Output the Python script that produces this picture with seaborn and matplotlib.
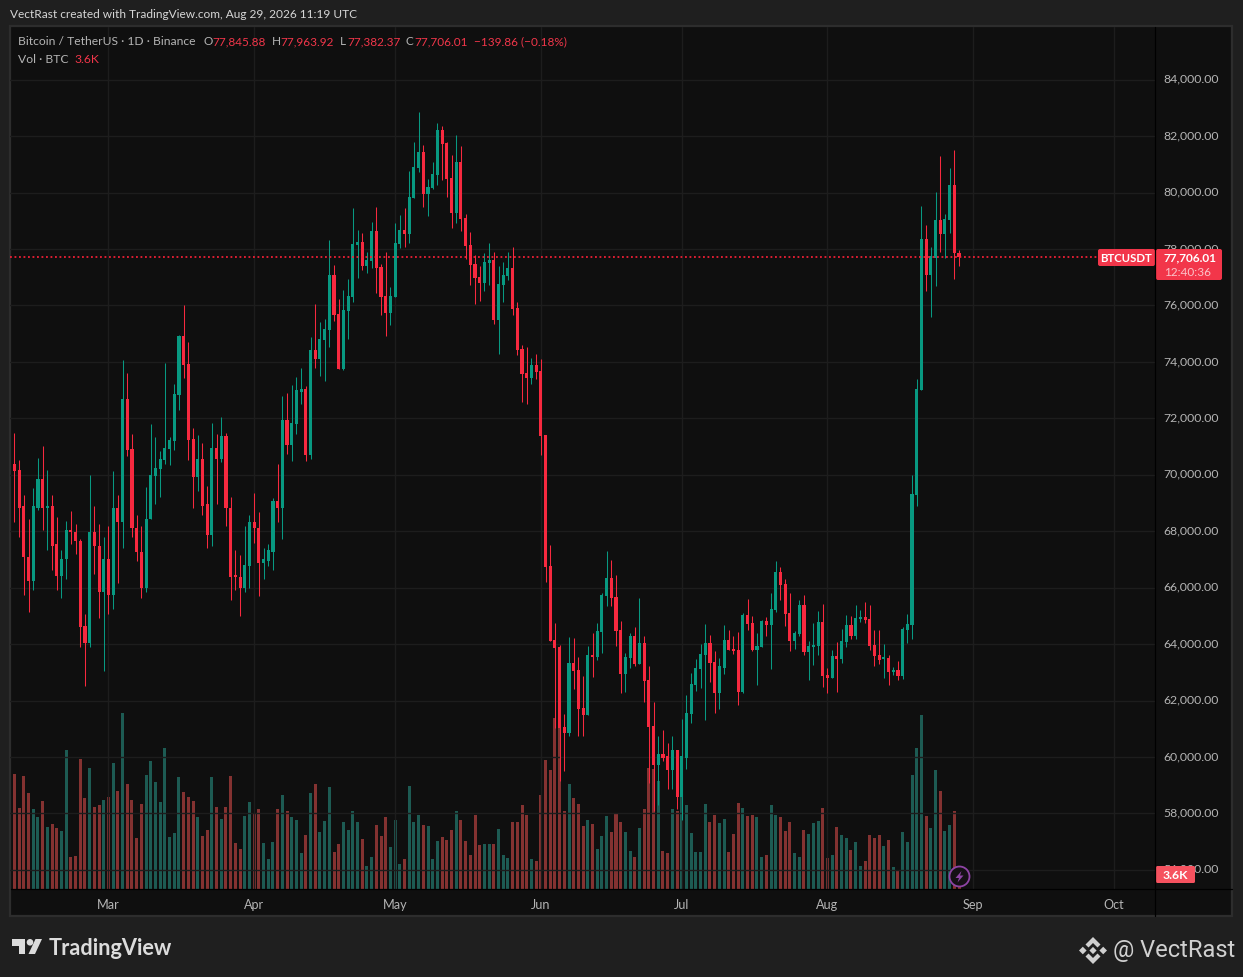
import numpy as np
import pandas as pd
import matplotlib
matplotlib.use("Agg")
import matplotlib.pyplot as plt
import matplotlib.dates as mdates
from matplotlib.patches import Rectangle, FancyBboxPatch, Polygon, Circle
from matplotlib.ticker import FuncFormatter
from matplotlib.transforms import ScaledTranslation
import seaborn as sns

# ---------- data (thousand USDT, thousand BTC) ----------
first_day = "2026-02-09"
open_k = [
70.37,70.16,68.88,67.10,66.25,68.84,69.84,68.81,68.91,67.53,
66.43,67.00,68.03,67.99,67.67,64.65,64.05,67.99,67.49,65.86,
67.00,65.75,68.84,68.31,72.68,70.90,68.13,67.28,65.97,68.42,
69.94,70.19,70.51,70.90,71.18,72.82,74.91,73.92,71.26,69.91,
70.55,68.95,67.85,70.94,70.55,71.36,68.84,66.43,66.39,66.00,
66.78,68.31,68.13,66.89,66.96,67.28,69.06,68.84,71.93,71.04,
71.79,72.93,73.04,70.70,74.42,74.10,74.77,75.13,77.08,75.70,
73.74,75.80,76.30,78.14,78.25,77.40,77.58,78.64,77.36,76.34,
75.73,76.30,78.18,78.68,78.53,79.81,80.88,81.44,79.95,80.17,
80.63,82.23,81.76,80.52,79.28,81.09,79.10,78.14,77.47,77.01,
76.80,77.50,77.61,75.48,76.73,77.04,77.33,75.91,74.45,73.60,
73.42,73.88,73.67,71.41,66.76,64.13,63.89,61.05,60.84,63.32,
63.07,61.72,61.47,63.60,63.53,64.42,65.69,66.33,65.66,64.49,
62.93,63.49,64.27,63.28,64.03,62.71,61.08,59.73,60.09,60.02,
59.52,60.23,58.57,59.98,61.51,62.54,63.11,63.60,64.03,63.35,
62.25,63.17,64.13,63.81,63.78,62.29,65.02,64.76,63.80,63.90,
64.82,64.68,65.22,66.55,66.13,65.11,64.11,64.36,65.39,63.72,
63.90,63.93,64.78,62.90,62.80,63.57,63.47,64.07,64.68,64.28,
64.89,64.97,64.89,63.97,63.61,63.47,63.51,63.01,63.08,62.87,
64.51,64.68,69.30,73.01,78.35,77.07,77.70,79.02,78.52,79.02,
80.26,77.846]
close_k = [
70.12,68.84,67.07,66.25,68.88,69.84,68.81,68.91,67.49,66.43,
67.03,68.03,67.96,67.64,64.62,64.05,67.99,67.46,65.86,67.00,
65.75,68.84,68.31,72.68,70.87,68.10,67.25,65.97,68.45,69.98,
70.23,70.55,70.94,71.22,72.85,74.91,73.88,71.22,69.91,70.55,
68.91,67.85,70.94,70.55,71.36,68.81,66.39,66.39,66.00,66.82,
68.31,68.10,66.89,67.00,67.32,69.06,68.84,71.93,71.04,71.82,
72.99,73.03,70.70,74.42,74.10,74.81,75.16,77.08,75.66,73.74,
75.84,76.34,78.18,78.25,77.40,77.61,78.64,77.33,76.30,75.73,
76.34,78.21,78.68,78.53,79.85,80.91,81.44,79.95,80.20,80.66,
82.23,81.73,80.49,79.28,81.09,79.07,78.11,77.44,76.97,76.80,
77.54,77.61,75.48,76.76,77.08,77.33,75.87,74.42,73.57,73.42,
73.88,73.64,71.37,66.72,64.10,63.85,61.01,60.84,63.32,63.03,
61.69,61.47,63.60,63.53,64.45,65.73,66.33,65.62,64.45,62.93,
63.53,64.27,63.28,64.03,62.68,61.05,59.73,60.09,59.98,59.52,
60.23,58.57,60.02,61.55,62.57,63.14,63.64,64.03,63.32,62.25,
63.21,64.13,63.78,63.74,62.29,65.02,64.72,63.80,63.93,64.82,
64.68,65.24,66.55,66.10,65.07,64.11,64.39,65.39,63.72,63.93,
63.97,64.78,62.87,62.80,63.57,63.47,64.11,64.68,64.28,64.93,
64.97,64.86,63.93,63.57,63.43,63.51,63.01,63.08,62.87,64.53,
64.72,69.33,73.05,78.35,77.07,77.74,79.02,78.52,79.05,80.26,
77.85,77.706]
high_k = [
71.47,70.53,69.30,68.42,69.52,70.58,71.01,70.16,69.27,68.49,
67.35,68.35,68.70,68.27,67.71,65.05,70.01,68.88,68.24,67.78,
68.20,70.12,69.27,74.06,73.60,71.43,68.56,68.20,69.55,71.79,
71.33,70.83,73.95,71.33,73.21,74.95,76.01,74.70,71.65,71.40,
71.11,69.62,71.82,71.43,72.04,71.47,69.20,67.32,67.14,68.20,
68.59,69.34,68.67,67.39,67.56,69.16,70.37,72.78,72.89,73.17,
73.46,73.78,73.15,74.88,76.05,75.41,75.52,78.32,77.44,76.23,
76.55,76.94,79.46,78.68,78.57,77.90,78.96,79.49,77.47,77.90,
76.65,78.92,79.21,79.46,80.77,81.80,82.86,81.69,80.49,81.09,
82.47,82.37,81.80,81.34,82.05,81.66,79.24,78.60,77.79,77.40,
77.86,78.21,77.90,77.40,77.54,77.90,78.07,76.12,74.60,74.52,
74.13,74.28,74.10,71.41,67.50,64.74,63.96,61.51,64.24,64.20,
63.53,62.86,63.92,64.38,64.74,65.80,67.29,66.97,66.44,64.81,
63.67,64.38,64.59,65.62,64.27,63.21,61.93,60.76,60.94,60.51,
60.76,60.26,61.33,62.18,62.96,63.46,63.99,64.70,64.31,63.74,
63.49,64.66,64.49,64.27,64.42,65.09,65.59,64.99,64.39,64.86,
64.97,65.81,66.95,66.74,66.31,65.81,64.47,65.57,65.74,64.11,
64.76,65.18,65.43,63.15,63.80,64.07,64.53,65.03,64.99,65.39,
65.22,65.49,65.39,64.51,64.51,64.01,63.61,63.19,63.40,64.61,
65.07,70.01,73.41,79.51,78.84,78.06,80.01,81.29,79.26,80.87,
81.51,77.964]
low_k = [
68.31,67.81,65.75,65.12,65.90,68.74,68.03,67.32,66.64,65.90,
65.65,66.29,67.56,67.21,63.91,62.53,63.91,66.50,64.94,63.06,
65.08,65.26,66.18,67.42,70.65,67.78,66.93,65.65,65.83,68.42,
68.98,69.23,70.40,70.33,70.87,72.29,73.42,70.51,68.81,69.41,
68.59,67.39,67.46,68.95,70.44,68.17,65.58,65.93,65.01,65.83,
66.00,67.60,65.72,66.29,66.78,66.64,68.31,67.74,70.72,70.48,
71.43,72.50,70.49,70.56,73.78,73.49,73.32,74.52,75.44,73.74,
73.71,74.81,76.12,76.97,77.26,77.15,77.33,76.44,75.66,74.91,
75.30,76.30,78.04,78.07,78.21,79.81,80.73,79.49,79.17,80.13,
80.27,80.45,79.85,78.75,78.92,78.64,77.65,76.73,76.05,76.16,
76.51,76.73,75.34,74.28,76.12,76.90,75.66,74.24,72.57,72.50,
73.21,73.39,70.70,66.19,64.10,61.03,59.13,59.49,60.73,62.40,
60.76,60.73,61.47,62.82,63.42,63.67,65.34,65.34,63.92,62.25,
62.29,63.17,63.24,63.28,61.93,59.09,58.10,58.31,59.84,58.88,
58.88,58.17,57.78,59.56,61.22,62.33,62.43,61.30,62.65,61.55,
61.69,62.93,63.78,63.64,61.83,62.25,64.49,63.76,62.55,63.90,
64.28,63.11,65.14,65.57,64.64,63.76,63.82,64.28,63.61,62.72,
63.26,63.61,62.48,62.26,62.80,62.30,63.32,63.90,64.18,64.18,
64.78,64.76,63.80,63.22,63.30,62.80,62.55,62.90,62.72,62.76,
64.03,64.18,68.91,73.01,76.53,75.58,76.68,77.89,77.68,78.56,
76.93,77.382]
volume_k = [
27.6,19.4,27.1,23.0,19.2,17.3,21.1,14.9,15.6,14.6,
13.9,33.4,7.7,7.9,31.2,21.8,29.0,19.7,20.2,21.4,
22.1,30.2,23.5,42.2,25.2,21.4,12.2,20.4,27.4,30.7,
25.7,20.9,33.8,12.5,13.4,26.9,23.3,22.1,21.1,17.3,
12.7,14.2,26.9,19.7,16.8,19.7,27.1,11.0,9.6,17.5,
20.9,18.0,19.2,11.0,7.2,11.3,19.2,22.6,18.7,17.3,
16.6,8.6,13.0,23.0,25.2,13.7,16.3,24.5,8.9,10.8,
16.1,14.2,18.7,16.1,12.0,5.5,7.7,15.4,12.7,17.3,
10.1,16.6,6.0,7.2,24.7,16.1,17.8,15.4,15.1,7.2,
11.5,12.5,11.8,14.2,18.7,16.6,11.5,8.2,17.8,10.6,
10.8,10.8,10.8,14.4,8.2,7.4,16.1,16.1,20.2,17.8,
7.2,6.7,22.6,31.0,28.6,41.0,38.6,18.7,25.2,21.8,
20.4,15.1,16.6,15.6,9.6,12.7,17.5,13.7,18.0,16.1,
13.7,9.1,7.7,14.6,19.2,29.0,28.8,25.9,9.1,8.6,
19.2,18.7,23.8,20.2,13.4,8.9,8.9,20.4,16.1,17.8,
15.8,16.8,8.9,13.2,20.6,19.4,17.5,17.8,17.3,7.7,
8.2,20.2,17.8,17.3,13.9,16.1,8.6,7.7,14.2,13.2,
15.8,16.3,19.4,7.4,8.2,14.9,13.0,12.2,9.4,11.3,
5.5,6.7,13.0,12.2,13.0,10.3,11.8,5.3,4.6,13.7,
11.3,27.4,33.8,41.8,17.5,14.6,28.6,23.5,13.9,15.4,
18.7,3.6]
price_ticks_k = [56,58,60,62,64,66,68,70,72,74,76,78,80,82,84]
month_starts = ["2026-03-01","2026-04-01","2026-05-01","2026-06-01","2026-07-01","2026-08-01","2026-09-01","2026-10-01"]
month_labels = ["Mar","Apr","May","Jun","Jul","Aug","Sep","Oct"]

# ---------- style ----------
W, H = 1243, 978
UP, DOWN = "#089981", "#f7293f"
VOL_UP, VOL_DOWN = "#1d5b53", "#843231"
FRAME, PANEL, OUTER = "#2d2d2d", "#0f0f0f", "#1f1f1f"
GRID = "#1d1d1d"
TXT = "#b4b4b4"
sns.set_theme(style="dark")
FONT = ["Lato", "DejaVu Sans"]
plt.rcParams["font.family"] = FONT

df = pd.DataFrame({
    "date": pd.date_range(first_day, periods=len(open_k)),
    "open": np.array(open_k) * 1000, "high": np.array(high_k) * 1000,
    "low": np.array(low_k) * 1000, "close": np.array(close_k) * 1000,
    "vol": volume_k,
})
df["x"] = mdates.date2num(df["date"])
df["dir"] = np.where(df["close"] >= df["open"], "up", "down")
x0 = mdates.date2num(pd.Timestamp("2026-03-01"))
xlim = (x0 - 20.85, x0 + 222.7)
ylim = (55320, 85870)

fig = plt.figure(figsize=(W / 100, H / 100), dpi=100, facecolor=OUTER)
rect = [10.5 / W, (H - 890) / H, (1155 - 10.5) / W, (890 - 28) / H]

bg = fig.add_axes([0, 0, 1, 1], zorder=0)
bg.set_xlim(0, W); bg.set_ylim(H, 0); bg.axis("off")
bg.add_patch(Rectangle((10, 27), 1222, 890, fc=PANEL, ec=FRAME, lw=1.6))

# volume pane
ax_v = fig.add_axes(rect, zorder=1)
ax_v.patch.set_alpha(0)
sns.barplot(data=df, x="x", y="vol", hue="dir", palette={"up": VOL_UP, "down": VOL_DOWN},
            native_scale=True, dodge=False, errorbar=None, legend=False, width=0.64,
            saturation=1, ax=ax_v, linewidth=0)
ax_v.set_xlim(*xlim); ax_v.set_ylim(0, 206.9); ax_v.axis("off")

# price pane
ax = fig.add_axes(rect, zorder=2)
ax.patch.set_alpha(0)
for d, col in (("up", UP), ("down", DOWN)):
    s = df[df["dir"] == d]
    ax.vlines(s["x"], s["low"], s["high"], color=col, lw=0.75, zorder=3, snap=True)
    ax.bar(s["x"], (s["close"] - s["open"]).abs().clip(lower=60), bottom=s[["open", "close"]].min(axis=1),
           width=0.66, color=col, linewidth=0, zorder=4)
last_line = ax.axhline(df["close"].iloc[-1], color="#ff2038", lw=1.2, ls=(0, (1.1, 1.6)), zorder=5)
ax.set_xlim(*xlim); ax.set_ylim(*ylim)
ax.set_yticks([p * 1000 for p in price_ticks_k])
ax.yaxis.set_major_formatter(FuncFormatter(lambda v, _: f"{v:,.2f}"))
ax.yaxis.tick_right()
ax.set_xticks(mdates.date2num(pd.to_datetime(month_starts)))
ax.set_xticklabels(month_labels)
ax.tick_params(axis="y", length=0, pad=6.2, labelsize=8.85, labelcolor=TXT)
ax.tick_params(axis="x", length=0, pad=6.4, labelsize=9.1, labelcolor=TXT)
nudge = ScaledTranslation(0, 1.8 / 72, fig.dpi_scale_trans)
for lbl in ax.yaxis.get_majorticklabels():
    lbl.set_transform(lbl.get_transform() + nudge)
ax.grid(True, color=GRID, lw=1.0, zorder=1)
ax.set_axisbelow(True)
for sp in ax.spines.values():
    sp.set_visible(False)

# overlay in figure pixels: chrome, captions and badges
ov = fig.add_axes([0, 0, 1, 1], zorder=5)
ov.set_xlim(0, W); ov.set_ylim(H, 0); ov.axis("off"); ov.patch.set_alpha(0)
ov.plot([11, 1232], [890, 890], color="#000000", lw=0.9)
ov.plot([1155.5, 1155.5], [28, 917], color="#000000", lw=0.9)

def label(x, y, s, color=TXT, size=8.6, **kw):
    kw.setdefault("ha", "left")
    return ov.text(x, y, s, color=color, fontsize=size, va="center", **kw)

label(10, 15, "VectRast created with TradingView.com, Aug 29, 2026 11:19 UTC", color="#d6d6d6", size=8.53)
label(18, 41.5, "Bitcoin / TetherUS · 1D · Binance", color=TXT, size=8.7)
ohlc = [(204, "O", 212, "77,845.88"), (272, "H", 280, "77,963.92"),
        (340, "L", 347, "77,382.37"), (406, "C", 414, "77,706.01")]
for xa, a, xb, b in ohlc:
    label(xa, 41.5, a, color=TXT, size=8.5)
    label(xb, 41.5, b, color="#f2364a", size=8.5)
label(474, 41.5, "−139.86 (−0.18%)", color="#f2364a", size=8.5)
label(18, 59.5, "Vol · BTC", color=TXT, size=8.7)
label(74, 59.5, "3.6K", color="#f2364a", size=8.7)

BADGE = "#f2364a"
ov.add_patch(FancyBboxPatch((1098, 250), 57, 17, boxstyle="round,pad=0,rounding_size=2", fc=BADGE, ec="none"))
label(1126.5, 258.5, "BTCUSDT", color="white", size=8.2, ha="center", fontweight="bold")
ov.add_patch(FancyBboxPatch((1156, 250), 66, 31, boxstyle="round,pad=0,rounding_size=2", fc=BADGE, ec="none"))
label(1190, 258, "77,706.01", color="white", size=8.5, ha="center", fontweight="bold")
label(1187.5, 272, "12:40:36", color="#fbc4ca", size=8.5, ha="center")
ov.add_patch(FancyBboxPatch((1156, 867), 39, 17, boxstyle="round,pad=0,rounding_size=1.5", fc="#f6525f", ec="none"))
label(1175.5, 875.5, "3.6K", color="white", size=8.8, ha="center", fontweight="bold")

# flash icon
ov.add_patch(Circle((959.5, 877.5), 10, fc="#151015", ec="#8e44a5", lw=1.3))
ov.add_patch(Polygon([(961.5, 872), (955.5, 879), (959, 879), (957.5, 883.5), (963.5, 876.5), (960, 876.5)],
                     fc="#8e44a5", ec="none"))

# TradingView logo
LOGO = "#dcdcdc"
ov.add_patch(Polygon([(12, 940), (25, 940), (25, 955), (19, 955), (19, 946.5), (12, 946.5)], fc=LOGO, ec="none"))
ov.add_patch(Circle((30, 943.3), 3.3, fc=LOGO, ec="none"))
ov.add_patch(Polygon([(35.5, 940), (42, 940), (35, 955), (28.5, 955)], fc=LOGO, ec="none"))
label(49, 948.5, "TradingView", color=LOGO, size=15.7, fontweight="bold")

# signature
SIG = "#d0d0d0"
cx, cy = 1093, 951.5
for poly in (
    [(cx, cy - 13.5), (cx + 7.5, cy - 6), (cx + 4.5, cy - 3), (cx, cy - 7.5), (cx - 4.5, cy - 3), (cx - 7.5, cy - 6)],
    [(cx, cy + 13.5), (cx + 7.5, cy + 6), (cx + 4.5, cy + 3), (cx, cy + 7.5), (cx - 4.5, cy + 3), (cx - 7.5, cy + 6)],
    [(cx - 14, cy), (cx - 10.2, cy - 3.8), (cx - 6.4, cy), (cx - 10.2, cy + 3.8)],
    [(cx + 14, cy), (cx + 10.2, cy - 3.8), (cx + 6.4, cy), (cx + 10.2, cy + 3.8)],
    [(cx, cy - 3.6), (cx + 3.6, cy), (cx, cy + 3.6), (cx - 3.6, cy)],
):
    ov.add_patch(Polygon(poly, fc=SIG, ec="none"))
label(1113, 951, "@ VectRast", color=SIG, size=17, family=["Roboto", "DejaVu Sans"])

fig.savefig("out.png", dpi=100, facecolor=OUTER)
